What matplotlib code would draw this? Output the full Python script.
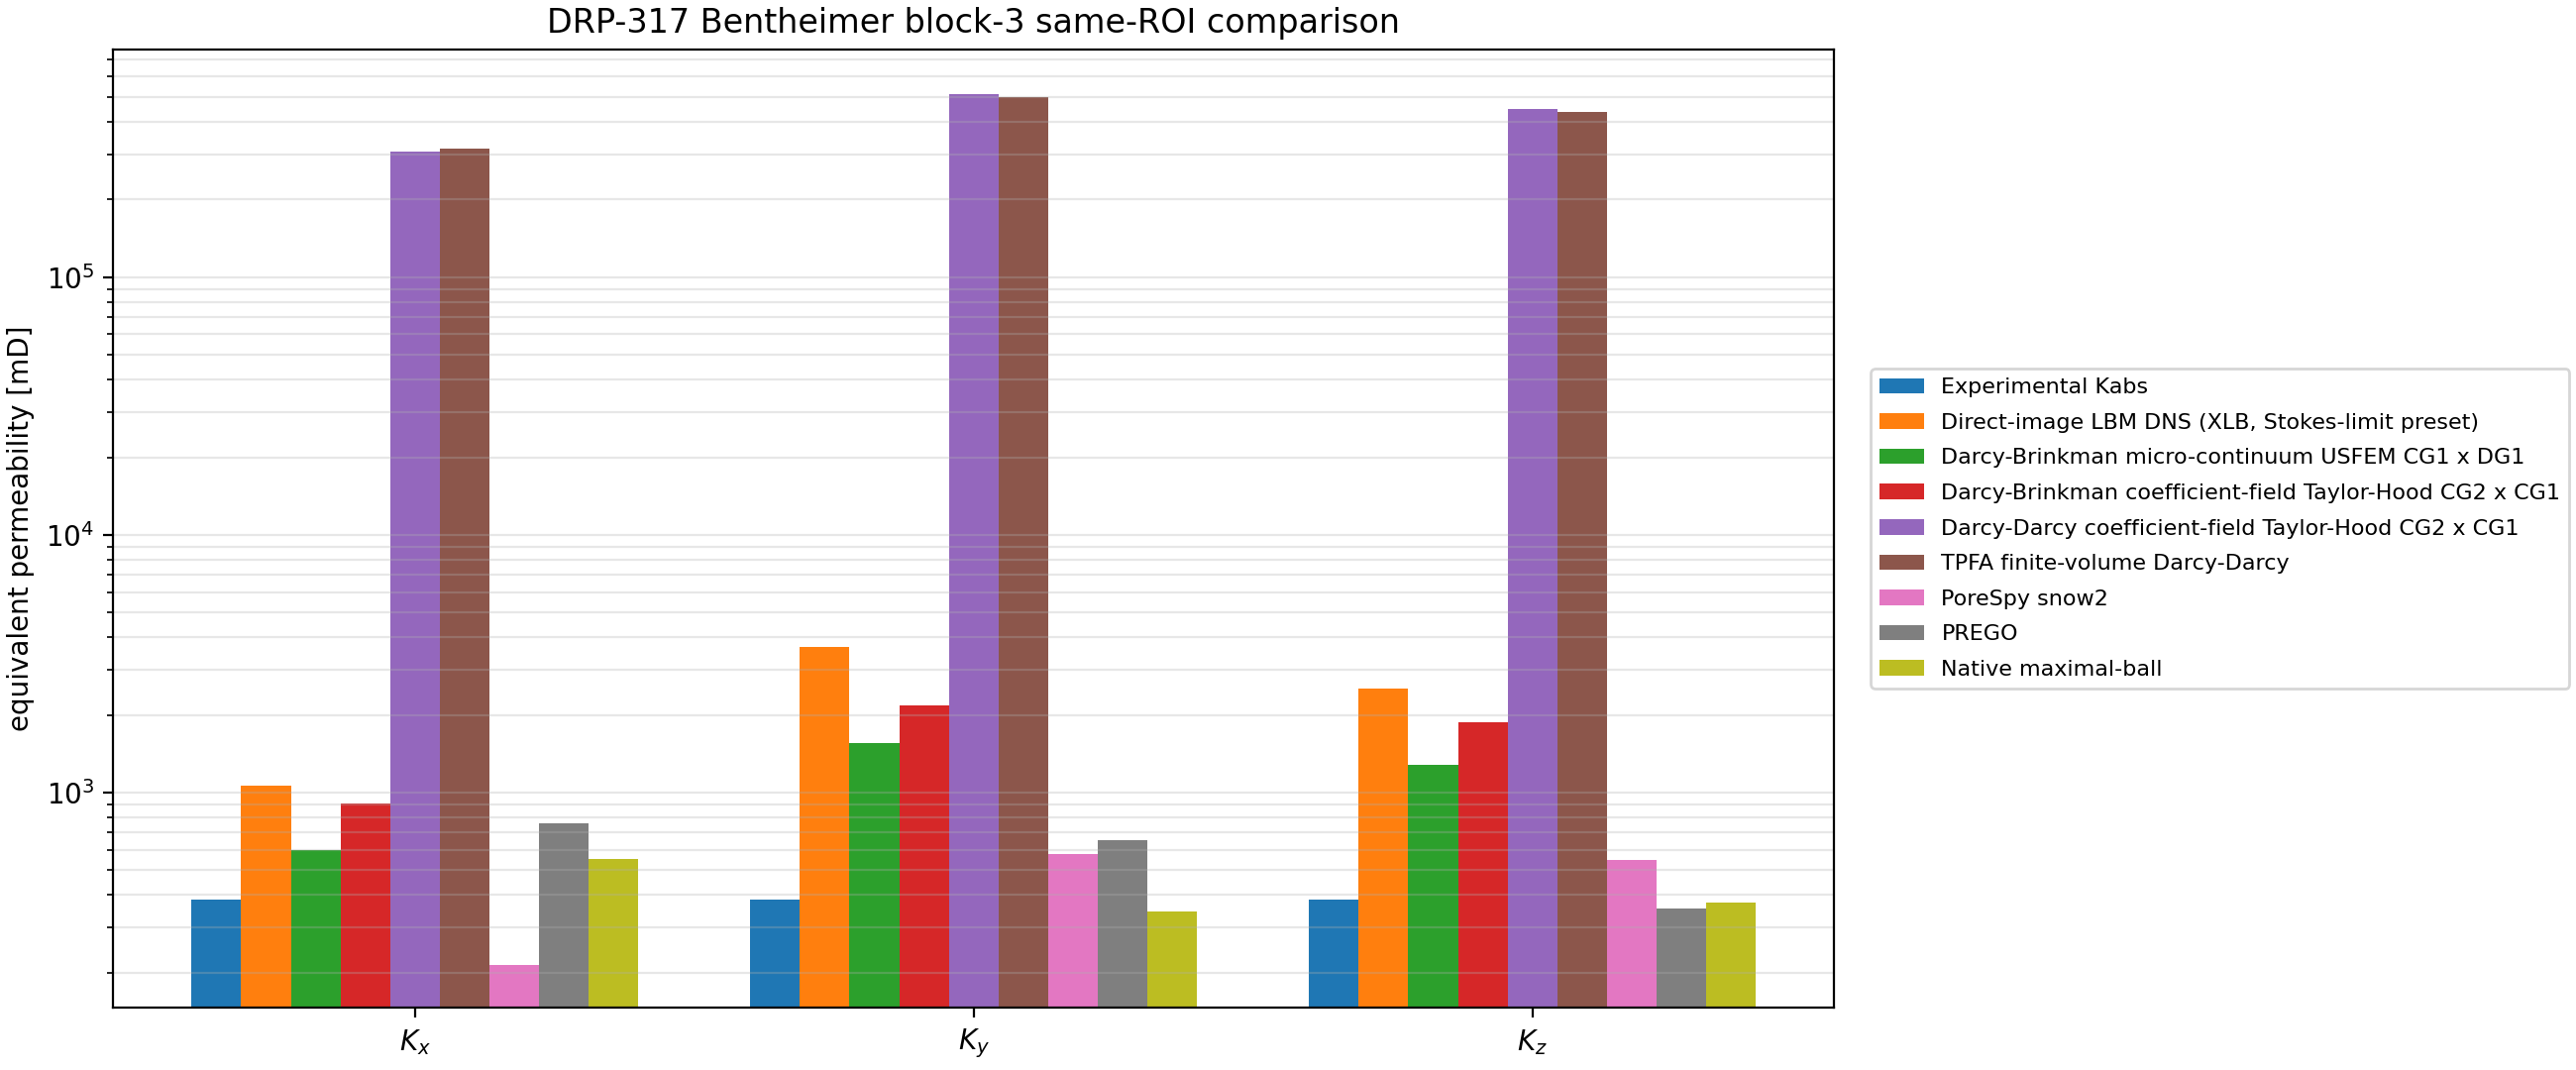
import numpy as np
import matplotlib.pyplot as plt

components = ['$K_x$', '$K_y$', '$K_z$']

methods = [
    'Experimental Kabs',
    'Direct-image LBM DNS (XLB, Stokes-limit preset)',
    'Darcy-Brinkman micro-continuum USFEM CG1 x DG1',
    'Darcy-Brinkman coefficient-field Taylor-Hood CG2 x CG1',
    'Darcy-Darcy coefficient-field Taylor-Hood CG2 x CG1',
    'TPFA finite-volume Darcy-Darcy',
    'PoreSpy snow2',
    'PREGO',
    'Native maximal-ball',
]

# permeability [mD] per method, in order Kx, Ky, Kz
k_exp = [385, 385, 385]
k_lbm = [1067, 3683, 2537]
k_usfem = [600, 1562, 1277]
k_th_brinkman = [905, 2184, 1880]
k_th_darcy = [3.08e5, 5.12e5, 4.48e5]
k_tpfa = [3.14e5, 4.99e5, 4.36e5]
k_snow2 = [214, 578, 548]
k_prego = [763, 656, 356]
k_maxball = [554, 346, 375]

values = [k_exp, k_lbm, k_usfem, k_th_brinkman, k_th_darcy,
          k_tpfa, k_snow2, k_prego, k_maxball]

fig, ax = plt.subplots(figsize=(13, 5.4), dpi=200)
x = np.arange(len(components))
n = len(methods)
width = 0.8 / n
for i, (label, vals) in enumerate(zip(methods, values)):
    ax.bar(x - 0.4 + width * (i + 0.5), vals, width, label=label)

ax.set_yscale('log')
ax.set_ylim(146, 7.66e5)
ax.set_xticks(x)
ax.set_xticklabels(components)
ax.set_ylabel('equivalent permeability [mD]')
ax.set_title('DRP-317 Bentheimer block-3 same-ROI comparison')
ax.grid(True, which='both', axis='y', alpha=0.3)
ax.legend(loc='center left', bbox_to_anchor=(1.015, 0.5), fontsize=8,
          labelspacing=0.7)

fig.subplots_adjust(left=0.044, right=0.712, top=0.954, bottom=0.058)
fig.savefig('out.png')
